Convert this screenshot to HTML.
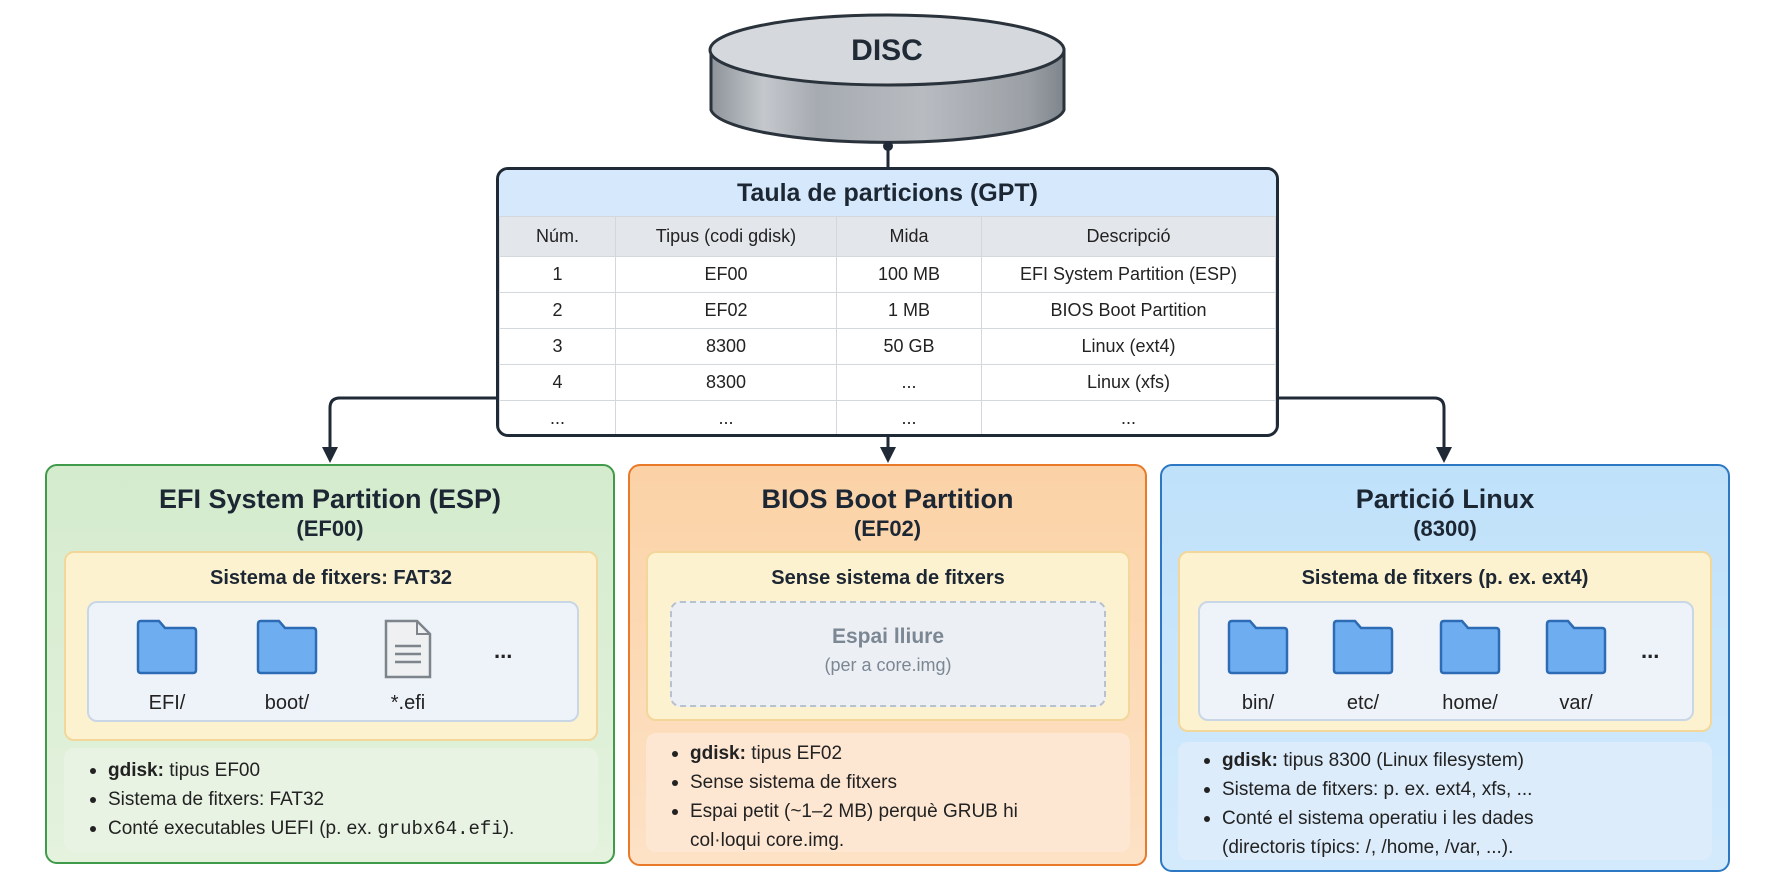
<!DOCTYPE html>
<html><head><meta charset="utf-8"><style>
*{margin:0;padding:0;box-sizing:border-box}
body{width:1774px;height:887px;background:#fff;position:relative;overflow:hidden;font-family:"Liberation Sans","DejaVu Sans",sans-serif;color:#1f2a36}
.abs{position:absolute}
table{border-collapse:collapse;width:100%;font-size:18px;text-align:center}
td{border:1px solid #d3d8de;height:36px;color:#222}
.hdr td{background:#e3e6ea;height:40px}
.panel{position:absolute;border:2px solid;border-radius:12px}
.ttl{position:absolute;left:0;right:0;text-align:center;font-weight:bold;font-size:27px;color:#1c2733}
.sub{position:absolute;left:0;right:0;text-align:center;font-weight:bold;font-size:24px;color:#1c2733}
.yb{position:absolute;background:#fdf2d0;border:2px solid #f3d79a;border-radius:10px}
.yb .h{text-align:center;font-weight:bold;font-size:20px;margin-top:14px;color:#1c2733}
.wb{position:absolute;background:#eef3fa;border:2px solid #c9d6e6;border-radius:10px}
.ic{position:absolute;text-align:center;width:100px;font-size:20px;color:#222}
.ic svg{display:block;margin:0 auto 16px}
.bb{position:absolute;border-radius:10px;font-size:19px;color:#222}
.bb ul{list-style:none;padding:8px 0 0 26px}
.bb li{position:relative;padding-left:18px;line-height:29px}
.bb li:before{content:"";position:absolute;left:0;top:12px;width:6px;height:6px;border-radius:50%;background:#222}
.dots{position:absolute;font-size:22px;font-weight:bold;color:#222}
</style></head><body>

<svg class="abs" style="left:0;top:0" width="1774" height="887">
<defs>
<linearGradient id="cyl" x1="0" x2="1" y1="0" y2="0">
<stop offset="0" stop-color="#8e949b"/><stop offset="0.15" stop-color="#c4c8cd"/><stop offset="0.3" stop-color="#a6abb1"/><stop offset="0.6" stop-color="#b8bcc1"/><stop offset="0.9" stop-color="#9a9fa5"/><stop offset="1" stop-color="#7f858c"/></linearGradient>
</defs>
<path d="M711,50 L711,110 A177,35 0 0 0 1064,110 L1064,50 Z" fill="url(#cyl)" stroke="#2a323b" stroke-width="3"/>
<ellipse cx="887" cy="50" rx="177" ry="35" fill="#d5d8dc" stroke="#2a323b" stroke-width="3"/>
<text x="887" y="60" text-anchor="middle" font-family="Liberation Sans" font-weight="bold" font-size="30" fill="#1f2a36">DISC</text>
<line x1="888" y1="145" x2="888" y2="168" stroke="#1f2a36" stroke-width="3"/>
<circle cx="888" cy="146" r="5" fill="#1f2a36"/>
<path d="M496,398 L340,398 Q330,398 330,408 L330,450" fill="none" stroke="#1f2a36" stroke-width="3"/>
<path d="M322,447 L338,447 L330,463Z" fill="#1f2a36"/>
<path d="M1278,398 L1434,398 Q1444,398 1444,408 L1444,450" fill="none" stroke="#1f2a36" stroke-width="3"/>
<path d="M1436,447 L1452,447 L1444,463Z" fill="#1f2a36"/>
<path d="M888,436 L888,450" fill="none" stroke="#1f2a36" stroke-width="3"/>
<path d="M880,447 L896,447 L888,463Z" fill="#1f2a36"/>
</svg>

<div class="abs" style="left:496px;top:167px;width:783px;height:270px;border:3px solid #1f2a36;border-radius:12px;overflow:hidden;background:#fff">
<div style="height:46px;background:#d6e8fb;text-align:center;font-weight:bold;font-size:25px;line-height:46px;color:#1c2733">Taula de particions (GPT)</div>
<table>
<colgroup><col style="width:116px"><col style="width:221px"><col style="width:145px"><col></colgroup>
<tr class="hdr"><td>Núm.</td><td>Tipus (codi gdisk)</td><td>Mida</td><td>Descripció</td></tr>
<tr><td>1</td><td>EF00</td><td>100 MB</td><td>EFI System Partition (ESP)</td></tr>
<tr><td>2</td><td>EF02</td><td>1 MB</td><td>BIOS Boot Partition</td></tr>
<tr><td>3</td><td>8300</td><td>50 GB</td><td>Linux (ext4)</td></tr>
<tr><td>4</td><td>8300</td><td>...</td><td>Linux (xfs)</td></tr>
<tr><td>...</td><td>...</td><td>...</td><td>...</td></tr>
</table></div>

<!-- Green -->
<div class="panel" style="left:45px;top:464px;width:570px;height:400px;border-color:#3f9a4a;background:linear-gradient(#d4ebcd,#e4f2de)">
<div class="ttl" style="top:18px">EFI System Partition (ESP)</div>
<div class="sub" style="top:50px;font-size:22px">(EF00)</div>
</div>
<div class="yb" style="left:64px;top:551px;width:534px;height:190px"><div class="h">Sistema de fitxers: FAT32</div></div>
<div class="wb" style="left:87px;top:601px;width:492px;height:121px"></div>
<div class="ic" style="left:117px;top:618px"><svg width="64" height="58" viewBox="0 0 64 58"><path d="M3,6 Q3,3 6,3 L24,3 L30,10 L58,10 Q61,10 61,13 L61,52 Q61,55 58,55 L6,55 Q3,55 3,52Z" fill="#6eaef0" stroke="#2d6cb5" stroke-width="2.5"/></svg>EFI/</div>
<div class="ic" style="left:237px;top:618px"><svg width="64" height="58" viewBox="0 0 64 58"><path d="M3,6 Q3,3 6,3 L24,3 L30,10 L58,10 Q61,10 61,13 L61,52 Q61,55 58,55 L6,55 Q3,55 3,52Z" fill="#6eaef0" stroke="#2d6cb5" stroke-width="2.5"/></svg>boot/</div>
<div class="ic" style="left:358px;top:618px"><svg width="50" height="62" viewBox="0 0 50 62"><path d="M3,3 L34,3 L47,16 L47,59 L3,59Z" fill="#eef0f2" stroke="#7d848c" stroke-width="2.5"/><path d="M34,3 L34,16 L47,16" fill="none" stroke="#7d848c" stroke-width="2"/><path d="M12,28H38M12,36H38M12,44H38" stroke="#7d848c" stroke-width="2.5"/></svg><span style="position:relative;top:-4px">*.efi</span></div>
<div class="dots" style="left:494px;top:638px">...</div>
<div class="bb" style="left:64px;top:748px;width:534px;height:104px;background:#e8f3e3"><ul>
<li><b>gdisk:</b> tipus EF00</li><li>Sistema de fitxers: FAT32</li><li>Conté executables UEFI (p. ex. <span style="font-family:'Liberation Mono',monospace">grubx64.efi</span>).</li></ul></div>

<!-- Orange -->
<div class="panel" style="left:628px;top:464px;width:519px;height:402px;border-color:#e87a2a;background:linear-gradient(#fbd2a6,#fde2c6)">
<div class="ttl" style="top:18px">BIOS Boot Partition</div>
<div class="sub" style="top:50px;font-size:22px">(EF02)</div>
</div>
<div class="yb" style="left:646px;top:551px;width:484px;height:170px"><div class="h">Sense sistema de fitxers</div></div>
<div class="abs" style="left:670px;top:601px;width:436px;height:106px;border:2px dashed #b8c2cf;border-radius:10px;background:#eceff3;text-align:center;color:#7c8794">
<div style="font-weight:bold;font-size:21px;margin-top:22px">Espai lliure</div><div style="font-size:18px;margin-top:6px">(per a core.img)</div></div>
<div class="bb" style="left:646px;top:733px;width:484px;height:119px;background:#fde6d2"><ul style="padding-top:6px">
<li><b>gdisk:</b> tipus EF02</li><li>Sense sistema de fitxers</li><li>Espai petit (~1–2 MB) perquè GRUB hi<br>col·loqui core.img.</li></ul></div>

<!-- Blue -->
<div class="panel" style="left:1160px;top:464px;width:570px;height:408px;border-color:#2c78c2;background:linear-gradient(#bfe1fa,#d3eafc)">
<div class="ttl" style="top:18px">Partició Linux</div>
<div class="sub" style="top:50px;font-size:22px">(8300)</div>
</div>
<div class="yb" style="left:1178px;top:551px;width:534px;height:181px"><div class="h">Sistema de fitxers (p. ex. ext4)</div></div>
<div class="wb" style="left:1198px;top:601px;width:496px;height:120px"></div>
<div class="ic" style="left:1208px;top:618px"><svg width="64" height="58" viewBox="0 0 64 58"><path d="M3,6 Q3,3 6,3 L24,3 L30,10 L58,10 Q61,10 61,13 L61,52 Q61,55 58,55 L6,55 Q3,55 3,52Z" fill="#6eaef0" stroke="#2d6cb5" stroke-width="2.5"/></svg>bin/</div>
<div class="ic" style="left:1313px;top:618px"><svg width="64" height="58" viewBox="0 0 64 58"><path d="M3,6 Q3,3 6,3 L24,3 L30,10 L58,10 Q61,10 61,13 L61,52 Q61,55 58,55 L6,55 Q3,55 3,52Z" fill="#6eaef0" stroke="#2d6cb5" stroke-width="2.5"/></svg>etc/</div>
<div class="ic" style="left:1420px;top:618px"><svg width="64" height="58" viewBox="0 0 64 58"><path d="M3,6 Q3,3 6,3 L24,3 L30,10 L58,10 Q61,10 61,13 L61,52 Q61,55 58,55 L6,55 Q3,55 3,52Z" fill="#6eaef0" stroke="#2d6cb5" stroke-width="2.5"/></svg>home/</div>
<div class="ic" style="left:1526px;top:618px"><svg width="64" height="58" viewBox="0 0 64 58"><path d="M3,6 Q3,3 6,3 L24,3 L30,10 L58,10 Q61,10 61,13 L61,52 Q61,55 58,55 L6,55 Q3,55 3,52Z" fill="#6eaef0" stroke="#2d6cb5" stroke-width="2.5"/></svg>var/</div>
<div class="dots" style="left:1641px;top:638px">...</div>
<div class="bb" style="left:1178px;top:742px;width:534px;height:118px;background:#dcecfb"><ul style="padding-top:4px">
<li><b>gdisk:</b> tipus 8300 (Linux filesystem)</li><li>Sistema de fitxers: p. ex. ext4, xfs, ...</li><li>Conté el sistema operatiu i les dades<br>(directoris típics: /, /home, /var, ...).</li></ul></div>

</body></html>
